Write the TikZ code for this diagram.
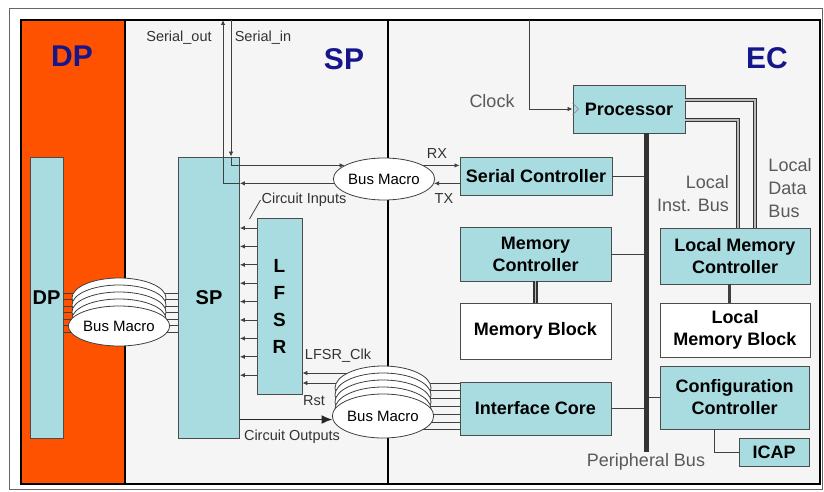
\documentclass[tikz,border=0pt]{standalone}
\usepackage{fontspec}
\setmainfont{Liberation Sans}
\usetikzlibrary{positioning,arrows.meta,shapes.geometric}
\definecolor{dporange}{RGB}{255,82,0}
\definecolor{regiongray}{RGB}{245,245,245}
\definecolor{boxcyan}{RGB}{168,220,224}
\definecolor{titleblue}{RGB}{22,22,140}

\begin{document}
\begin{tikzpicture}[
  x=1pt, y=-1pt,
  blk/.style={draw=black!70, fill=boxcyan, line width=0.9pt, inner sep=0pt, align=center, font=\bfseries\fontsize{18}{22}\selectfont},
  wblk/.style={blk, fill=white},
  ttl/.style={font=\bfseries\fontsize{30}{36}\selectfont, text=titleblue},
  lbl/.style={font=\fontsize{14.5}{17}\selectfont, text=black!80, inner sep=1pt},
  glbl/.style={font=\fontsize{18}{23}\selectfont, text=black!65, inner sep=1pt},
  macro/.style={ellipse, draw=black!75, fill=white, line width=0.8pt, minimum width=96pt, minimum height=42pt, inner sep=0pt, font=\fontsize{15}{17}\selectfont},
  wire/.style={black!75, line width=0.8pt},
  sig/.style={wire, -{Latex[length=5pt,width=4.5pt]}},
  bigarr/.style={black!85, line width=1.8pt, -{Latex[length=11pt,width=9pt]}},
  pbus/.style={black!80, line width=5pt},
  lbus/.style={draw=black!80, double=gray!55, double distance=1.8pt, line width=1.2pt}
]
\useasboundingbox (0,0) rectangle (824,492);
% frame and regions
\draw[black!60, line width=0.7pt] (9,8) rectangle (822,489);
\fill[regiongray] (21,20) rectangle (820,484);
\fill[dporange] (21,20) rectangle (125,484);
\draw[line width=2.5pt] (125,20) -- (125,484);
\draw[line width=2.5pt] (388,20) -- (388,484);
\draw[line width=2.5pt] (21,20) rectangle (820,484);

\node[ttl] (dpttl) at (72,56) {DP};
\node[ttl] (spttl) at (344,59) {SP};
\node[ttl] (ecttl) at (767,58) {EC};

% DP / SP blocks
\node[blk, minimum width=33pt, minimum height=281pt, font=\bfseries\fontsize{20}{24}\selectfont] (dpbox) at (46.5,297.5) {DP};
\node[blk, minimum width=61pt, minimum height=281pt, font=\bfseries\fontsize{20}{24}\selectfont] (spbox) at (209,297.5) {SP};
\node[blk, minimum width=45pt, minimum height=176pt, font=\bfseries\fontsize{19}{27}\selectfont] (lfsr) at (279.5,306) {L\\F\\S\\R};

% EC blocks
\node[blk, minimum width=112pt, minimum height=48pt] (proc) at (629,109) {Processor};
\node[blk, minimum width=152pt, minimum height=38pt] (serctl) at (536,176) {Serial Controller};
\node[blk, minimum width=151pt, minimum height=54pt] (memctl) at (535.5,254) {Memory\\Controller};
\node[wblk, minimum width=151pt, minimum height=56pt] (memblk) at (535.5,331) {Memory Block};
\node[blk, minimum width=151pt, minimum height=53pt] (ifcore) at (535.5,408.5) {Interface Core};
\node[blk, minimum width=150pt, minimum height=56pt] (lmemctl) at (735,256) {Local Memory\\Controller};
\node[wblk, minimum width=150pt, minimum height=54pt] (lmemblk) at (735,330) {Local\\Memory Block};
\node[blk, minimum width=149pt, minimum height=63pt] (cfgctl) at (734.5,397.5) {Configuration\\Controller};
\node[blk, minimum width=70pt, minimum height=28pt] (icap) at (774,452) {ICAP};

\coordinate (bmdpc) at (119,326);
\coordinate (bmserc) at (384,179);
\coordinate (bmioc) at (383,416);
\coordinate (sout) at (223,20);
\coordinate (sin) at (231,20);
\coordinate (clk) at (529,20);
\coordinate (pbbot) at (646,452);

% wires behind the bus macros
\foreach \k in {0,...,6}
  \draw[wire] ([yshift={4.5-6.5*\k}]dpbox.east) -- ([yshift={4.5-6.5*\k}]dpbox.east -| spbox.west);
\foreach \k in {0,...,6}
  \draw[wire] ([yshift={25.5-7.8*\k}]ifcore.west) -- ([yshift={25.5-7.8*\k}]ifcore.west -| bmioc);
\draw[sig] ([yshift=43]bmioc) -- ([yshift=43]bmioc -| lfsr.east);
\draw[sig] ([yshift=33]bmioc) -- ([yshift=33]bmioc -| lfsr.east);

% bus macros
\foreach \k in {4,3,2,1}
  \node[macro, minimum width=94pt, minimum height=40pt] (bmdp\k) at ([yshift=7*\k]bmdpc) {};
\node[macro, minimum width=94pt, minimum height=40pt] (bmdp) at (bmdpc) {Bus Macro};
\foreach \k in {4,3,2,1}
  \node[macro, minimum height=44pt] (bmio\k) at ([yshift=7*\k]bmioc) {};
\node[macro, minimum height=44pt] (bmio) at (bmioc) {Bus Macro};
\node[macro, minimum width=98pt] (bmser) at (bmserc) {Bus Macro};

% serial links
\draw[sig] (sin) -- (sin |- spbox.north);
\draw[sig] (sin |- spbox.north) |- (bmser.161);
\draw[sig] (bmser.185) -- (bmser.185 -| spbox.east);
\draw[sig] (bmser.185 -| spbox.east) -| (sout);
\draw[sig] (bmser.19) -- (bmser.19 -| serctl.west);
\draw[sig] (bmser.-5 -| serctl.west) -- (bmser.-5);
\draw[bigarr] (bmio.184 -| spbox.east) -- (bmio.184);

% LFSR outputs
\foreach \k in {0,...,8}
  \draw[sig] ([yshift={78-18.4*\k}]lfsr.west) -- ([yshift={78-18.4*\k}]lfsr.west -| spbox.east);

\node[lbl] (cin) at (304,200) {Circuit Inputs};
\draw[wire] (cin.west) -- ++(-11,19);
\node[lbl] (soutlbl) at (179,38) {Serial\_out};
\node[lbl] (sinlbl) at (263,38) {Serial\_in};
\node[lbl] (rxlbl) at (437,154) {RX};
\node[lbl] (txlbl) at (444,199) {TX};
\node[lbl] (lclklbl) at (338,356) {LFSR\_Clk};
\node[lbl] (rstlbl) at (314,401) {Rst};
\node[lbl] (coutlbl) at (292,437) {Circuit Outputs};

% EC buses
\draw[sig] (clk) |- (proc.west);
\draw[black!50, line width=0.6pt] ([yshift=6]proc.west) -- ([xshift=6]proc.west) -- ([yshift=-6]proc.west);
\draw[wire] (serctl.east) -- (serctl.east -| pbbot);
\draw[wire] (memctl.east) -- (memctl.east -| pbbot);
\draw[wire] (ifcore.east) -- (ifcore.east -| pbbot);
\draw[wire] (cfgctl.west) -- (cfgctl.west -| pbbot);
\draw[pbus] ([xshift=17]proc.south) -- (pbbot);
\draw[lbus] ([yshift=9]proc.east) -| ([xshift=20]lmemctl.north);
\draw[lbus] ([yshift=-11]proc.east) -| ([xshift=3]lmemctl.north);
\draw[lbus] (memctl.south) -- (memblk.north);
\draw[black!75, line width=3pt] ([xshift=-6]lmemctl.south) -- ([xshift=-6]lmemblk.north);
\draw[wire] ([xshift=-20]cfgctl.south) |- (icap.west);

\node[glbl] (clocklbl) at (492,101) {Clock};
\node[glbl, align=right] (libl) at (693,194) {Local\\Inst. Bus};
\node[glbl, align=left] (ldbl) at (790,188) {Local\\Data\\Bus};
\node[glbl, below=0pt of pbbot] (pblbl) {Peripheral Bus};
\end{tikzpicture}
\end{document}
